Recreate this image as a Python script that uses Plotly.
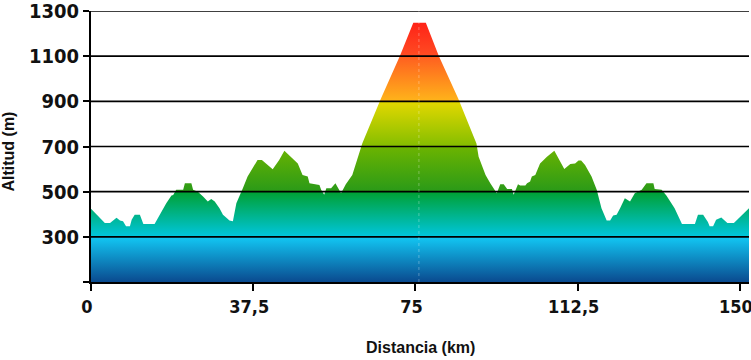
import plotly.graph_objects as go

# Distance along route (km) and altitude (m)
distance_km = [
    0, 3.2, 4.4, 5.9, 6.7, 7.4, 8.1, 9.0, 9.4, 10.1, 11.3, 12.1, 14.7, 15.9, 17.4,
    18.6, 19.0, 19.7, 21.3, 21.7, 23.2, 23.6, 24.7, 25.9, 27.0, 27.8, 28.6, 29.7,
    30.5, 31.3, 32.0, 32.8, 33.6, 35.1, 36.2, 38.5, 39.5, 42.0, 43.5, 44.7, 46.2,
    47.8, 48.9, 50.1, 50.5, 51.6, 52.8, 53.2, 53.9, 54.4, 55.5, 56.5, 57.2, 57.8,
    58.9, 60.4, 62.7, 65.0, 67.0, 71.4, 74.5, 77.4, 80.4, 84.9, 86.8, 89.1, 89.6,
    91.2, 92.3, 93.1, 93.8, 94.6, 95.4, 96.2, 97.3, 97.7, 98.7, 99.2, 100.4, 100.8,
    101.5, 101.9, 102.7, 103.8, 104.6, 105.4, 107.1, 108.5, 109.4, 110.8, 111.9,
    112.7, 113.3, 114.2, 115.7, 116.9, 118.0, 119.2, 120.0, 120.7, 121.5, 122.3,
    123.4, 124.6, 125.7, 127.3, 128.4, 130.0, 130.3, 131.9, 133.0, 134.9, 136.6,
    139.6, 140.3, 141.5, 142.6, 143.0, 143.8, 144.5, 145.7, 147.1, 148.6, 152.1,
]
altitude_m = [
    424, 361, 361, 384, 372, 369, 347, 347, 376, 398, 398, 357, 357, 398, 449,
    483, 485, 508, 508, 537, 537, 508, 500, 479, 457, 468, 457, 427,
    398, 384, 372, 369, 449, 515, 567, 640, 640, 599, 640, 681, 655,
    625, 574, 567, 537, 533, 530, 508, 486, 515, 515, 537, 515, 493,
    533, 574, 713, 823, 911, 1101, 1248, 1248, 1101, 911, 823, 713, 655,
    574, 537, 515, 493, 533, 533, 512, 512, 486, 533, 527, 527, 537,
    545, 567, 574, 625, 640, 655, 681, 633, 600, 622, 625,
    638, 638, 618, 567, 508, 427, 372, 372, 395, 398, 427,
    471, 457, 493, 508, 537, 537, 512, 508, 483, 427, 357,
    357, 398, 398, 366, 347, 347, 376, 386, 361, 361, 427,
]

x_tick_vals = [0, 37.5, 75, 112.5, 150]
x_tick_text = ["0", "37,5", "75", "112,5", "150"]
y_tick_vals = [100, 300, 500, 700, 900, 1100, 1300]
y_tick_text = ["", "300", "500", "700", "900", "1100", "1300"]
grid_vals = [300, 500, 700, 900, 1100, 1300]
x_range = [0, 152.1]
y_range = [100, 1300]
center_km = 75.8

Y0, Y1 = y_range


def pos(v):
    return (v - Y0) / (Y1 - Y0)


eps = 0.0005
colorscale = [
    [0.0, "#0a4a8f"],
    [pos(300), "#12c8f4"],
    [pos(300) + eps, "#00c6de"],
    [pos(500), "#00a032"],
    [pos(500) + eps, "#2a9a18"],
    [pos(700), "#6cb400"],
    [pos(700) + eps, "#84be00"],
    [pos(900), "#e4d800"],
    [pos(900) + eps, "#ffb41a"],
    [pos(1100), "#ff5e20"],
    [pos(1100) + eps, "#ff4c22"],
    [1.0, "#ff1414"],
]

fig = go.Figure()
fig.add_trace(go.Scatter(
    x=distance_km, y=altitude_m, mode="lines",
    line=dict(width=0, color="rgba(0,0,0,0)"),
    fill="tozeroy",
    fillgradient=dict(type="vertical", colorscale=colorscale, start=Y0, stop=Y1),
    hoverinfo="skip", showlegend=False,
))

for g in grid_vals:
    fig.add_shape(type="line", xref="paper", x0=0, x1=1, yref="y", y0=g, y1=g,
                  line=dict(color="#000000", width=1.6), layer="above")

fig.add_shape(type="line", xref="x", x0=center_km, x1=center_km, yref="y",
              y0=Y0, y1=Y1, line=dict(color="rgba(255,255,255,0.3)", width=1, dash="dot"),
              layer="above")

font_family = "Liberation Sans Narrow, DejaVu Sans Condensed, Arial Narrow, sans-serif"
y_tick_font = dict(family=font_family, size=20, color="#111111", weight="bold")
x_tick_font = dict(family=font_family, size=18, color="#111111", weight="bold")

fig.update_xaxes(
    range=x_range, tickvals=x_tick_vals, ticktext=x_tick_text,
    showgrid=False, zeroline=False, showline=True, linecolor="#000000", linewidth=2,
    ticks="outside", ticklen=7, tickwidth=2, tickcolor="#000000",
    tickfont=x_tick_font, layer="above traces", automargin=False,
    ticklabeloverflow="allow", ticklabelshift=-4,
)
fig.update_yaxes(
    range=y_range, tickvals=y_tick_vals, ticktext=y_tick_text,
    showgrid=False, zeroline=False, showline=True, linecolor="#000000", linewidth=2,
    ticks="outside", ticklen=6, tickwidth=2, tickcolor="#000000",
    tickfont=y_tick_font, layer="above traces", automargin=False,
    ticklabeloverflow="allow",
)

title_font = dict(family="Liberation Sans, Arial, sans-serif", size=16, color="#111111")
fig.add_annotation(text="<b>Altitud (m)</b>", xref="paper", yref="paper",
                   x=-0.1255, y=0.483, showarrow=False, textangle=-90, font=title_font,
                   xanchor="center", yanchor="middle")
fig.add_annotation(text="<b>Distancia (km)</b>", xref="paper", yref="paper",
                   x=0.5, y=-0.24, showarrow=False, font=title_font,
                   xanchor="center", yanchor="middle")

fig.update_layout(
    width=751, height=360,
    margin=dict(l=91, r=2, t=11, b=78),
    plot_bgcolor="#ffffff", paper_bgcolor="#ffffff",
)

fig.write_html("out.html", config={"displayModeBar": False},
               post_script="document.body.style.margin='0';")
